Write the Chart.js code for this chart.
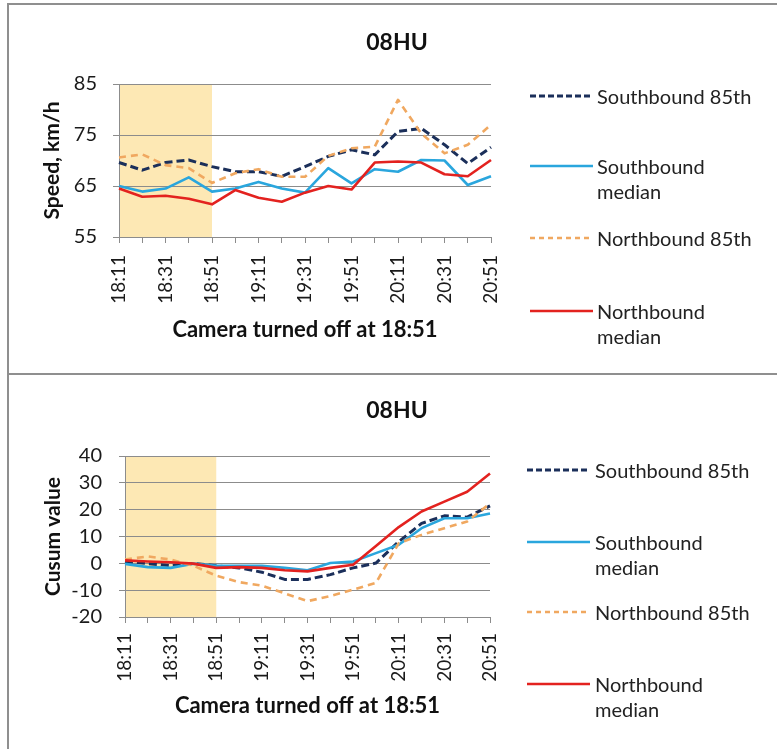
<!DOCTYPE html>
<html><head><meta charset="utf-8">
<script src="https://cdn.jsdelivr.net/npm/chart.js@4"></script>
<style>
html,body{margin:0;padding:0;background:#fff;overflow:hidden;width:777px;height:749px;}
#frame{position:absolute;left:7px;top:3px;width:800px;height:760px;border-left:2px solid #8f8f8f;border-top:2px solid #8f8f8f;box-sizing:border-box;}
#divider{position:absolute;left:7px;top:373px;width:800px;height:2px;background:#8f8f8f;}
canvas{position:absolute;left:9px;}
.lg{position:absolute;font-family:Lato,sans-serif;font-size:20px;color:#222;line-height:25px;white-space:nowrap;}
.sw{position:absolute;}
</style></head>
<body>
<div id="frame"></div>
<div id="divider"></div>
<canvas id="c1" width="776" height="368" style="top:5px"></canvas>
<canvas id="c2" width="776" height="373" style="top:376px"></canvas>
<div id="legend1"></div>
<div id="legend2"></div>
<script>
// ---- data ----
const timeLabels = ['18:11','18:21','18:31','18:41','18:51','19:01','19:11','19:21','19:31','19:41','19:51','20:01','20:11','20:21','20:31','20:41','20:51'];
const seriesNames = ['Southbound 85th','Southbound median','Northbound 85th','Northbound median'];
const legendLines = [['Southbound 85th'],['Southbound','median'],['Northbound 85th'],['Northbound','median']];
const chartTitle = '08HU';
const xTitle = 'Camera turned off at 18:51';
const cameraOffFrom = '18:11';
const cameraOffTo = '18:51';

const speedSb85  = [69.6, 68.1, 69.6, 70.1, 68.8, 67.8, 67.8, 66.9, 68.8, 70.8, 72.1, 71.1, 75.7, 76.3, 73.1, 69.4, 72.6];
const speedSbMed = [65.0, 63.9, 64.5, 66.7, 63.9, 64.5, 65.8, 64.5, 63.7, 68.5, 65.5, 68.3, 67.8, 70.1, 70.0, 65.2, 66.9];
const speedNb85  = [70.6, 71.2, 69.1, 68.5, 65.6, 67.5, 68.3, 66.8, 66.8, 70.9, 72.4, 72.7, 81.9, 75.3, 71.4, 73.1, 77.0];
const speedNbMed = [64.5, 62.9, 63.1, 62.5, 61.4, 64.2, 62.7, 61.9, 63.7, 65.0, 64.3, 69.6, 69.8, 69.6, 67.3, 66.9, 70.1];

const cusumSb85  = [0.7, -0.1, -0.9, 0.0, -0.9, -1.7, -3.3, -6.0, -6.0, -4.2, -1.7, 0.1, 8.1, 14.9, 17.7, 17.2, 21.4];
const cusumSbMed = [-0.2, -1.4, -1.7, -0.1, -0.9, -0.9, -0.9, -1.7, -2.6, 0.1, 0.7, 3.8, 6.9, 13.1, 16.8, 16.8, 18.6];
const cusumNb85  = [1.4, 2.6, 1.4, -0.9, -4.6, -7.0, -8.3, -11.2, -14.1, -12.2, -9.8, -7.3, 7.5, 10.6, 13.1, 15.6, 22.3];
const cusumNbMed = [1.1, 0.7, 0.4, -0.1, -1.7, -1.4, -1.7, -2.6, -3.0, -1.7, -0.5, 6.5, 13.5, 19.3, 23.0, 26.7, 33.5];

const speedTicks = {min:55, max:85, step:10};
const cusumTicks = {min:-20, max:40, step:10};

// ---- styles ----
const colors = ['#1b2f5a','#2aa6dd','#f0a860','#e3221f'];
const dashes = [[8,4],[],[7,5],[]];
const widths = [3,2.6,2.6,2.6];
const drawOrder = [3,2,1,0];
const gridColor = '#8c8c8c';
const shadeColor = '#fde8b4';

Chart.defaults.font.family = 'Lato';
Chart.defaults.color = '#1a1a1a';

const shadePlugin = {
  id:'shade',
  beforeDraw(chart){
    const xs = chart.scales.x, a = chart.chartArea, ctx = chart.ctx;
    const x0 = xs.getPixelForValue(timeLabels.indexOf(cameraOffFrom));
    const x1 = xs.getPixelForValue(timeLabels.indexOf(cameraOffTo));
    ctx.save(); ctx.fillStyle = shadeColor;
    ctx.fillRect(x0, a.top, x1 - x0, a.bottom - a.top);
    ctx.restore();
  }
};

const panelTitlePlugin = {
  id:'panelTitle',
  afterDraw(chart, args, opts){
    const ctx = chart.ctx;
    ctx.save();
    ctx.font = 'bold 23px Lato';
    ctx.fillStyle = '#111';
    ctx.textAlign = 'center';
    ctx.textBaseline = 'middle';
    ctx.fillText(opts.text, chart.width / 2, opts.y);
    ctx.restore();
  }
};

function makeChart(id, values, ticks, yTitle, g){
  const datasets = values.map((v,i)=>({
    label: seriesNames[i], data: v, borderColor: colors[i], backgroundColor: colors[i],
    borderDash: dashes[i], borderWidth: widths[i], pointRadius: 0, tension: 0, order: drawOrder[i],
    borderCapStyle:'butt', borderJoinStyle:'round'
  }));
  return new Chart(document.getElementById(id), {
    type:'line',
    data:{labels: timeLabels, datasets},
    plugins:[shadePlugin, panelTitlePlugin],
    options:{
      responsive:false, animation:false, devicePixelRatio:1,
      layout:{padding:{left:0,right:g.padRight,top:g.padTop,bottom:0}},
      plugins:{
        legend:{display:false}, tooltip:{enabled:false}, title:{display:false},
        panelTitle:{text: chartTitle, y: g.titleY}
      },
      scales:{
        x:{
          type:'category', offset:false,
          grid:{display:true, drawOnChartArea:false, drawTicks:true, tickLength:6, color:gridColor},
          border:{display:true, color:gridColor, width:1},
          ticks:{autoSkip:false, minRotation:90, maxRotation:90, padding:g.xPad, font:{size:19}, color:'#1a1a1a',
                 callback:(v,i)=> i % 2 === 0 ? timeLabels[i] : ''},
          title:{display:true, text:xTitle, font:{size:22, weight:'bold'}, color:'#111',
                 padding:{top:0, bottom:g.xTitleBottom}},
          afterFit:(s)=>{ s.height = g.xHeight; }
        },
        y:{
          min:ticks.min, max:ticks.max,
          grid:{display:true, drawOnChartArea:true, drawTicks:true, tickLength:6, color:gridColor},
          border:{display:true, color:gridColor, width:1},
          ticks:{stepSize:ticks.step, autoSkip:false, padding:g.yPad, font:{size:20}, color:'#1a1a1a'},
          title:{display:true, text:yTitle, font:{size:21, weight:'bold'}, color:'#111',
                 padding:{top:g.yTitleTop, bottom:0}},
          afterFit:(s)=>{ s.width = g.yWidth; }
        }
      }
    }
  });
}

function makeLegend(hostId, rows){
  const host = document.getElementById(hostId);
  let html = '';
  rows.forEach((r,i)=>{
    const dash = dashes[i].length ? `stroke-dasharray="${dashes[i][0]-2} ${dashes[i][1]-1}"` : '';
    html += `<svg class="sw" style="left:${r.lx}px;top:${r.y-5}px" width="${r.lw}" height="10"><line x1="0" y1="5" x2="${r.lw}" y2="5" stroke="${colors[i]}" stroke-width="${widths[i]}" ${dash}/></svg>`;
    html += `<div class="lg" style="left:${r.tx}px;top:${r.y-12.5}px">${legendLines[i].join('<br>')}</div>`;
  });
  host.innerHTML = html;
}

function draw(){
  makeChart('c1', [speedSb85, speedSbMed, speedNb85, speedNbMed], speedTicks, 'Speed, km/h',
    {padRight:294, padTop:79, titleY:38, xPad:12, xTitleBottom:30, xHeight:136, yPad:16, yTitleTop:31, yWidth:110});
  makeChart('c2', [cusumSb85, cusumSbMed, cusumNb85, cusumNbMed], cusumTicks, 'Cusum value',
    {padRight:295, padTop:80, titleY:35, xPad:10, xTitleBottom:30, xHeight:132, yPad:17, yTitleTop:32, yWidth:116});
  makeLegend('legend1', [
    {lx:530, lw:63, tx:597, y:96},{lx:530, lw:63, tx:597, y:166},{lx:530, lw:63, tx:597, y:238},{lx:530, lw:63, tx:597, y:311}]);
  makeLegend('legend2', [
    {lx:527, lw:63, tx:595, y:470},{lx:527, lw:63, tx:595, y:542},{lx:527, lw:63, tx:595, y:612},{lx:527, lw:63, tx:595, y:684}]);
}
if (document.fonts && document.fonts.load) {
  Promise.all([document.fonts.load('20px Lato'), document.fonts.load('bold 20px Lato')]).then(draw, draw);
} else draw();
</script>
</body></html>
